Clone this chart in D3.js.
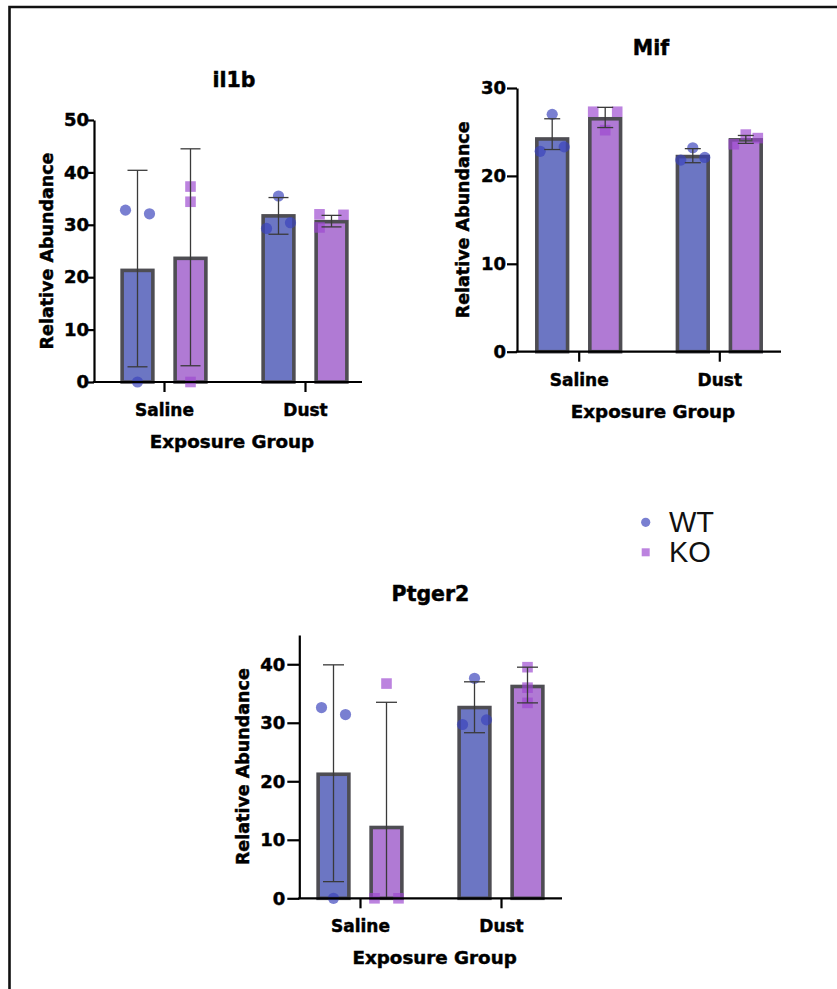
<!DOCTYPE html>
<html>
<head>
<meta charset="utf-8">
<script src="https://cdn.jsdelivr.net/npm/d3@7/dist/d3.min.js"></script>
<style>
  html, body { margin: 0; padding: 0; background: #fff; }
  svg { display: block; }
</style>
</head>
<body>
<script>
// ---------------- DATA ----------------
const groups = ["Saline", "Dust"];
const genotypes = ["WT", "KO"];
const panelNames = ["il1b", "Mif", "Ptger2"];
const xAxisTitle = "Exposure Group";
const yAxisTitle = "Relative Abundance";

// il1b
const il1bTicks = [0, 10, 20, 30, 40, 50];
const il1bMax = 50;
const il1bWTMean = [21.3, 31.7];
const il1bKOMean = [23.6, 30.6];
const il1bWTLow = [2.9, 28.2];
const il1bWTHigh = [40.4, 35.2];
const il1bKOLow = [3.1, 29.6];
const il1bKOHigh = [44.5, 31.8];
const il1bWTPoints = [[32.8, 0, 32.1], [29.3, 35.5, 30.4]];
const il1bKOPoints = [[37.3, 34.4, 0], [29.5, 32.0, 31.9]];
const il1bWTJitter = [[-1, 0, 1], [-1, 0, 1]];
const il1bKOJitter = [[0, 0, 0], [-1, -1, 1]];

// Mif
const mifTicks = [0, 10, 20, 30];
const mifMax = 30;
const mifWTMean = [24.2, 22.2];
const mifKOMean = [26.5, 24.1];
const mifWTLow = [23.0, 21.5];
const mifWTHigh = [26.5, 23.1];
const mifKOLow = [25.5, 23.7];
const mifKOHigh = [27.8, 24.6];
const mifWTPoints = [[22.8, 27.0, 23.3], [21.8, 23.2, 22.1]];
const mifKOPoints = [[27.3, 25.2, 27.3], [23.6, 24.7, 24.3]];
const mifWTJitter = [[-1, 0, 1], [-1, 0, 1]];
const mifKOJitter = [[-1, 0, 1], [-1, 0, 1]];

// Ptger2
const ptgerTicks = [0, 10, 20, 30, 40];
const ptgerMax = 45;
const ptgerWTMean = [21.2, 32.6];
const ptgerKOMean = [12.1, 36.2];
const ptgerWTLow = [2.85, 28.3];
const ptgerWTHigh = [39.9, 37.0];
const ptgerKOLow = [-9.2, 33.4];
const ptgerKOHigh = [33.5, 39.5];
const ptgerWTPoints = [[32.6, 0, 31.4], [29.7, 37.6, 30.5]];
const ptgerKOPoints = [[0, 36.7, 0], [39.5, 36.0, 33.4]];
const ptgerWTJitter = [[-1, 0, 1], [-1, 0, 1]];
const ptgerKOJitter = [[-1, 0, 1], [0, 0, 0]];

// ---------------- STYLE / LAYOUT ----------------
const W = 837, H = 989;
const barFill = { WT: "#6c76c3", KO: "#b07ad4" };
const pointFill = { WT: "#3a43bb", KO: "#9c48d0" };
const boldFont = "'DejaVu Sans', sans-serif";

const panels = [
  { name: panelNames[0], ticks: il1bTicks, max: il1bMax,
    mean: { WT: il1bWTMean, KO: il1bKOMean },
    low: { WT: il1bWTLow, KO: il1bKOLow }, high: { WT: il1bWTHigh, KO: il1bKOHigh },
    pts: { WT: il1bWTPoints, KO: il1bKOPoints }, jit: { WT: il1bWTJitter, KO: il1bKOJitter },
    axisX: 94, zeroY: 382, topY: 120, firstX: 164, step: 141, xEnd: 362,
    titleX: 234, titleY: 87, yLabelX: 46.5, tickLen: 6, tickPad: -1, capW: 20 },
  { name: panelNames[1], ticks: mifTicks, max: mifMax,
    mean: { WT: mifWTMean, KO: mifKOMean },
    low: { WT: mifWTLow, KO: mifKOLow }, high: { WT: mifWTHigh, KO: mifKOHigh },
    pts: { WT: mifWTPoints, KO: mifKOPoints }, jit: { WT: mifWTJitter, KO: mifKOJitter },
    axisX: 517, zeroY: 351.7, topY: 88, firstX: 578.7, step: 140.6, xEnd: 781,
    titleX: 651, titleY: 55, yLabelX: 462, tickLen: 10, tickPad: 1, capW: 16 },
  { name: panelNames[2], ticks: ptgerTicks, max: ptgerMax,
    mean: { WT: ptgerWTMean, KO: ptgerKOMean },
    low: { WT: ptgerWTLow, KO: ptgerKOLow }, high: { WT: ptgerWTHigh, KO: ptgerKOHigh },
    pts: { WT: ptgerWTPoints, KO: ptgerKOPoints }, jit: { WT: ptgerWTJitter, KO: ptgerKOJitter },
    axisX: 299.3, zeroY: 898.3, topY: 635, firstX: 360, step: 141, xEnd: 562,
    titleX: 430.5, titleY: 601, yLabelX: 242.5, tickLen: 12, tickPad: 2, capW: 21 }
];

const svg = d3.select("body").append("svg")
  .attr("width", W).attr("height", H)
  .attr("viewBox", `0 0 ${W} ${H}`);

svg.append("rect").attr("width", W).attr("height", H).attr("fill", "#fff");

// frame (only top and left edges visible)
svg.append("path")
  .attr("d", `M9.5,${H + 5} L9.5,7 L${W + 5},7`)
  .attr("fill", "none").attr("stroke", "#111").attr("stroke-width", 2.6);

const sub = d3.scaleBand().domain(genotypes).range([-53, 53])
  .paddingInner(0.42).paddingOuter(0.21);
const jitterStep = 12;

function heavy(sel, size) {
  sel.attr("font-family", boldFont).attr("font-weight", "bold")
    .attr("font-size", size).attr("fill", "#000")
    .attr("stroke", "#000").attr("stroke-width", 0.45);
}

panels.forEach(p => {
  const g = svg.append("g");
  const x = d3.scalePoint().domain(groups).range([p.firstX, p.firstX + p.step]);
  const y = d3.scaleLinear().domain([0, p.max]).range([p.zeroY, p.topY]);

  // bars
  genotypes.forEach(gt => {
    g.selectAll(null).data(groups).enter().append("rect")
      .attr("x", (d) => x(d) + sub(gt))
      .attr("width", sub.bandwidth())
      .attr("y", (d, i) => y(p.mean[gt][i]))
      .attr("height", (d, i) => y(0) - y(p.mean[gt][i]))
      .attr("fill", barFill[gt])
      .attr("stroke", "#4e4d53")
      .attr("stroke-width", 3.6);
  });

  // points
  genotypes.forEach(gt => {
    groups.forEach((grp, i) => {
      const cx = x(grp) + sub(gt) + sub.bandwidth() / 2;
      p.pts[gt][i].forEach((v, k) => {
        const px = cx + p.jit[gt][i][k] * jitterStep;
        const py = y(v);
        if (gt === "WT") {
          g.append("circle").attr("cx", px).attr("cy", py).attr("r", 5.6)
            .attr("fill", pointFill.WT).attr("fill-opacity", 0.68);
        } else {
          g.append("rect").attr("x", px - 5.3).attr("y", py - 5.3)
            .attr("width", 10.6).attr("height", 10.6)
            .attr("fill", pointFill.KO).attr("fill-opacity", 0.68);
        }
      });
    });
  });

  // error bars
  genotypes.forEach(gt => {
    groups.forEach((grp, i) => {
      const cx = x(grp) + sub(gt) + sub.bandwidth() / 2;
      const lo = p.low[gt][i], hi = p.high[gt][i];
      const loC = Math.max(lo, 0);
      g.append("line").attr("x1", cx).attr("x2", cx)
        .attr("y1", y(loC)).attr("y2", y(hi))
        .attr("stroke", "#3a3a3a").attr("stroke-width", 1.3);
      g.append("line").attr("x1", cx - p.capW / 2).attr("x2", cx + p.capW / 2)
        .attr("y1", y(hi)).attr("y2", y(hi))
        .attr("stroke", "#3a3a3a").attr("stroke-width", 1.3);
      if (lo >= 0) {
        g.append("line").attr("x1", cx - p.capW / 2).attr("x2", cx + p.capW / 2)
          .attr("y1", y(lo)).attr("y2", y(lo))
          .attr("stroke", "#3a3a3a").attr("stroke-width", 1.3);
      }
    });
  });

  // y axis
  const yAx = g.append("g").attr("transform", `translate(${p.axisX},0)`)
    .call(d3.axisLeft(y).tickValues(p.ticks).tickSize(p.tickLen)
      .tickSizeOuter(0).tickPadding(p.tickPad).tickFormat(d3.format("d")));
  yAx.selectAll("path, line").attr("stroke", "#000").attr("stroke-width", 2.2);
  heavy(yAx.selectAll("text"), 18);

  // x axis
  const xAx = g.append("g").attr("transform", `translate(0,${p.zeroY})`)
    .call(d3.axisBottom(x).tickSize(10).tickSizeOuter(0).tickPadding(12));
  xAx.select(".domain").attr("d", `M${p.axisX - 1.1},0H${p.xEnd}`);
  xAx.selectAll("path, line").attr("stroke", "#000").attr("stroke-width", 2.2);
  heavy(xAx.selectAll("text"), 17);

  // titles
  heavy(g.append("text").attr("x", p.titleX).attr("y", p.titleY)
    .attr("text-anchor", "middle").text(p.name), 20.5);

  heavy(g.append("text").attr("x", (p.axisX + p.xEnd) / 2 + 4).attr("y", p.zeroY + 66)
    .attr("text-anchor", "middle").text(xAxisTitle), 18.3);

  heavy(g.append("text")
    .attr("transform", `translate(${p.yLabelX + 6.6},${(p.zeroY + p.topY) / 2}) rotate(-90)`)
    .attr("text-anchor", "middle").text(yAxisTitle), 17.5);
});

// legend
const legend = svg.append("g");
legend.append("circle").attr("cx", 645.7).attr("cy", 522.3).attr("r", 4.6)
  .attr("fill", pointFill.WT).attr("fill-opacity", 0.68);
legend.append("rect").attr("x", 641.7).attr("y", 548.3).attr("width", 8).attr("height", 8)
  .attr("fill", pointFill.KO).attr("fill-opacity", 0.68);
legend.append("text").attr("x", 669).attr("y", 531.7)
  .attr("font-family", "'Liberation Sans', Arial, sans-serif").attr("font-size", 29)
  .attr("fill", "#111").text(genotypes[0]);
legend.append("text").attr("x", 669).attr("y", 561.7)
  .attr("font-family", "'Liberation Sans', Arial, sans-serif").attr("font-size", 29)
  .attr("fill", "#111").text(genotypes[1]);
</script>
</body>
</html>
